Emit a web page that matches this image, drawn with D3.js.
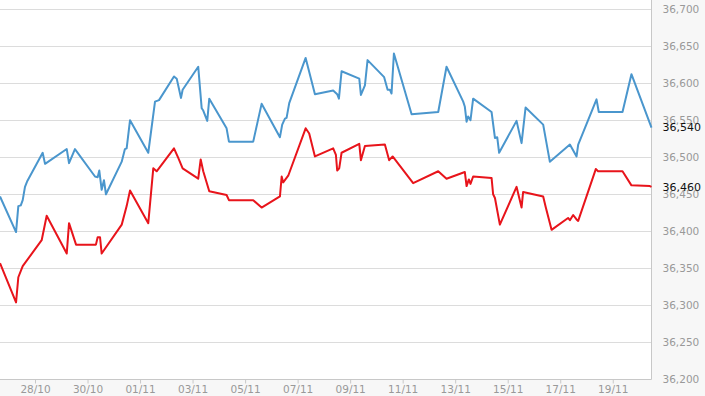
<!DOCTYPE html>
<html>
<head>
<meta charset="utf-8">
<script src="https://cdn.jsdelivr.net/npm/d3@7"></script>
<style>
  body { margin: 0; background: #f7f7f7; }
  svg { display: block; }
</style>
</head>
<body>
<div id="grafico"></div>
<script>
// serie azul
var blueData = [
  ["2020-10-26 16:00", 36447], ["2020-10-27 06:40", 36399], ["2020-10-27 08:45", 36434],
  ["2020-10-27 11:00", 36435], ["2020-10-27 12:45", 36442], ["2020-10-27 14:50", 36460],
  ["2020-10-27 17:00", 36468], ["2020-10-28 07:00", 36506], ["2020-10-28 09:10", 36491],
  ["2020-10-29 05:00", 36511], ["2020-10-29 07:05", 36492], ["2020-10-29 12:30", 36511],
  ["2020-10-30 06:50", 36474], ["2020-10-30 09:15", 36473], ["2020-10-30 10:45", 36482],
  ["2020-10-30 12:55", 36456], ["2020-10-30 15:00", 36469], ["2020-10-30 16:50", 36450],
  ["2020-10-31 07:15", 36494], ["2020-10-31 10:10", 36511], ["2020-10-31 11:45", 36512],
  ["2020-10-31 14:50", 36550], ["2020-11-01 07:30", 36506], ["2020-11-01 13:40", 36575],
  ["2020-11-01 17:20", 36577], ["2020-11-02 07:00", 36609], ["2020-11-02 09:30", 36606],
  ["2020-11-02 13:25", 36580], ["2020-11-02 14:55", 36591], ["2020-11-03 05:10", 36622],
  ["2020-11-03 08:20", 36566], ["2020-11-03 09:45", 36563], ["2020-11-03 13:25", 36549],
  ["2020-11-03 15:15", 36579], ["2020-11-04 07:05", 36539], ["2020-11-04 09:15", 36521],
  ["2020-11-05 07:25", 36521], ["2020-11-05 15:05", 36572], ["2020-11-06 07:50", 36527],
  ["2020-11-06 09:55", 36544], ["2020-11-06 12:25", 36552], ["2020-11-06 13:55", 36553],
  ["2020-11-06 16:20", 36573], ["2020-11-07 07:20", 36634], ["2020-11-07 15:50", 36585],
  ["2020-11-08 08:30", 36590], ["2020-11-08 12:10", 36585], ["2020-11-08 13:45", 36579],
  ["2020-11-08 16:10", 36616], ["2020-11-09 08:20", 36606], ["2020-11-09 09:50", 36584],
  ["2020-11-09 13:30", 36597], ["2020-11-09 15:55", 36631], ["2020-11-10 07:05", 36608],
  ["2020-11-10 10:15", 36591], ["2020-11-10 12:20", 36591], ["2020-11-10 13:50", 36586],
  ["2020-11-10 16:00", 36640], ["2020-11-11 08:10", 36558], ["2020-11-12 08:30", 36561],
  ["2020-11-12 16:05", 36622], ["2020-11-13 07:20", 36575], ["2020-11-13 08:50", 36568],
  ["2020-11-13 10:25", 36548], ["2020-11-13 11:50", 36555], ["2020-11-13 14:00", 36550],
  ["2020-11-13 16:25", 36579], ["2020-11-14 09:15", 36561], ["2020-11-14 12:20", 36526],
  ["2020-11-14 14:25", 36527], ["2020-11-14 16:10", 36506], ["2020-11-15 08:05", 36549],
  ["2020-11-15 12:40", 36519], ["2020-11-15 16:20", 36567], ["2020-11-16 08:25", 36544],
  ["2020-11-16 14:30", 36494], ["2020-11-17 08:50", 36517], ["2020-11-17 14:55", 36501],
  ["2020-11-17 16:25", 36517], ["2020-11-18 09:10", 36578], ["2020-11-18 11:15", 36561],
  ["2020-11-19 08:55", 36561], ["2020-11-19 17:05", 36612], ["2020-11-20 11:25", 36540]
];

// serie vermelha
var redData = [
  ["2020-10-26 16:00", 36357], ["2020-10-27 06:40", 36304], ["2020-10-27 08:45", 36338],
  ["2020-10-27 12:45", 36353], ["2020-10-28 06:05", 36388], ["2020-10-28 10:40", 36421],
  ["2020-10-29 05:00", 36370], ["2020-10-29 07:05", 36411], ["2020-10-29 13:30", 36382],
  ["2020-10-30 07:40", 36382], ["2020-10-30 09:15", 36392], ["2020-10-30 11:25", 36392],
  ["2020-10-30 12:55", 36370], ["2020-10-31 07:15", 36409], ["2020-10-31 11:45", 36434],
  ["2020-10-31 14:50", 36455], ["2020-11-01 07:30", 36411], ["2020-11-01 12:05", 36485],
  ["2020-11-01 15:10", 36481], ["2020-11-02 07:00", 36512], ["2020-11-02 10:55", 36499],
  ["2020-11-02 14:55", 36485], ["2020-11-03 05:10", 36471], ["2020-11-03 07:25", 36497],
  ["2020-11-03 09:45", 36481], ["2020-11-03 15:15", 36454], ["2020-11-04 07:05", 36449],
  ["2020-11-04 09:15", 36442], ["2020-11-05 07:25", 36442], ["2020-11-05 15:05", 36432],
  ["2020-11-06 07:50", 36447], ["2020-11-06 09:25", 36474], ["2020-11-06 10:50", 36466],
  ["2020-11-06 15:25", 36475], ["2020-11-07 07:20", 36539], ["2020-11-07 10:35", 36532],
  ["2020-11-07 15:50", 36501], ["2020-11-08 08:30", 36512], ["2020-11-08 11:00", 36503],
  ["2020-11-08 12:10", 36482], ["2020-11-08 14:00", 36485], ["2020-11-08 16:10", 36506],
  ["2020-11-09 08:20", 36518], ["2020-11-09 09:50", 36496], ["2020-11-09 13:30", 36515],
  ["2020-11-10 07:45", 36517], ["2020-11-10 11:40", 36496], ["2020-11-10 14:50", 36501],
  ["2020-11-11 09:35", 36465], ["2020-11-12 08:30", 36481], ["2020-11-12 16:05", 36471],
  ["2020-11-13 08:50", 36480], ["2020-11-13 10:25", 36461], ["2020-11-13 12:30", 36470],
  ["2020-11-13 14:00", 36464], ["2020-11-13 16:25", 36474], ["2020-11-14 09:15", 36472],
  ["2020-11-14 10:40", 36450], ["2020-11-14 12:20", 36445], ["2020-11-14 16:50", 36409],
  ["2020-11-15 08:05", 36460], ["2020-11-15 12:40", 36432], ["2020-11-15 14:05", 36453],
  ["2020-11-16 08:25", 36447], ["2020-11-16 10:50", 36432], ["2020-11-16 16:05", 36402],
  ["2020-11-17 07:10", 36418], ["2020-11-17 08:50", 36415], ["2020-11-17 11:50", 36422],
  ["2020-11-17 14:55", 36416], ["2020-11-17 16:25", 36414], ["2020-11-18 08:30", 36484],
  ["2020-11-18 10:35", 36481], ["2020-11-19 08:55", 36481], ["2020-11-19 17:05", 36462],
  ["2020-11-20 09:55", 36461], ["2020-11-20 11:25", 36460]
];

var xTickLabels = ["28/10", "30/10", "01/11", "03/11", "05/11", "07/11",
                   "09/11", "11/11", "13/11", "15/11", "17/11", "19/11"];
var yTicks = [36200, 36250, 36300, 36350, 36400, 36450, 36500, 36550, 36600, 36650, 36700];

var width = 705;
var height = 396;
var plotW = 651.5;
var plotB = 379.5;

var parseTime = d3.timeParse("%Y-%m-%d %H:%M");
var parseTick = d3.timeParse("%d/%m/%Y");
var fmt = d3.format(",");

var blue = blueData.map(d => ({ t: parseTime(d[0]), v: d[1] }));
var red = redData.map(d => ({ t: parseTime(d[0]), v: d[1] }));

var x = d3.scaleTime()
    .domain(d3.extent(blue.concat(red), d => d.t))
    .range([0, plotW]);
var y = d3.scaleLinear()
    .domain([36200, 36700])
    .range([plotB, 9]);

var svg = d3.select("#grafico")
    .append("svg")
    .attr("width", width)
    .attr("height", height)
    .style("font-family", "'DejaVu Sans', Verdana, sans-serif");

svg.append("rect")
    .attr("width", width)
    .attr("height", height)
    .attr("fill", "#f7f7f7");

// area do grafico
svg.append("rect")
    .attr("x", 0)
    .attr("y", 0)
    .attr("width", plotW)
    .attr("height", plotB)
    .attr("fill", "#fff");

// grade horizontal
svg.append("g")
    .selectAll("line")
    .data(yTicks.slice(1))
    .join("line")
    .attr("x1", 0)
    .attr("x2", plotW)
    .attr("y1", d => Math.round(y(d)) + 0.5)
    .attr("y2", d => Math.round(y(d)) + 0.5)
    .attr("stroke", "#dcdcdc")
    .attr("stroke-width", 1);

// bordas
svg.append("path")
    .attr("d", "M0," + plotB + "H" + plotW + "V0")
    .attr("fill", "none")
    .attr("stroke", "#c8c8c8")
    .attr("stroke-width", 1);

// eixo x
var xAxis = d3.axisBottom(x)
    .tickValues(xTickLabels.map(s => parseTick(s + "/2020")))
    .tickFormat(d3.timeFormat("%d/%m"))
    .tickSize(4)
    .tickPadding(2);

var gx = svg.append("g")
    .attr("transform", "translate(0," + plotB + ")")
    .call(xAxis);
gx.select(".domain").remove();
gx.selectAll(".tick line").attr("stroke", "#c8c8c8");
gx.selectAll(".tick text")
    .attr("fill", "#999")
    .style("font-size", "10.5px")
    .style("font-family", "'DejaVu Sans', Verdana, sans-serif");

// eixo y (lado direito)
var yAxis = d3.axisRight(y)
    .tickValues(yTicks)
    .tickFormat(fmt)
    .tickSize(0)
    .tickPadding(11);

var gy = svg.append("g")
    .attr("transform", "translate(" + plotW + ",0)")
    .call(yAxis);
gy.select(".domain").remove();
gy.selectAll(".tick text")
    .attr("fill", "#999")
    .style("font-size", "10.5px")
    .style("font-family", "'DejaVu Sans', Verdana, sans-serif");

// linhas
var line = d3.line()
    .x(d => x(d.t))
    .y(d => y(d.v));

svg.append("path")
    .datum(blue)
    .attr("d", line)
    .attr("fill", "none")
    .attr("stroke", "#4a96cd")
    .attr("stroke-width", 2)
    .attr("stroke-linejoin", "round");

svg.append("path")
    .datum(red)
    .attr("d", line)
    .attr("fill", "none")
    .attr("stroke", "#e8141b")
    .attr("stroke-width", 2)
    .attr("stroke-linejoin", "round");

// ultimo valor de cada serie
var lastVals = [blue[blue.length - 1].v, red[red.length - 1].v];
svg.append("g")
    .selectAll("text")
    .data(lastVals)
    .join("text")
    .attr("x", plotW + 11)
    .attr("y", d => y(d))
    .attr("dy", "0.35em")
    .attr("fill", "#111")
    .style("font-size", "11px")
    .text(d => fmt(d));
</script>
</body>
</html>
